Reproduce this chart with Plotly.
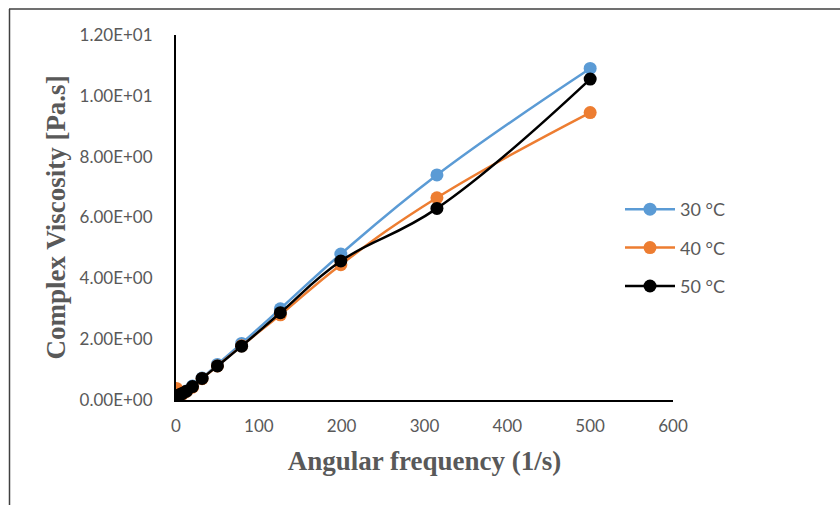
import plotly.graph_objects as go

freq = [0.5, 0.79, 1.26, 2.0, 3.15, 5.0, 7.92, 12.6, 19.9, 31.5, 50, 79.2, 126, 199, 315, 500]
v30 = [0.10, 0.10, 0.11, 0.12, 0.14, 0.17, 0.22, 0.30, 0.46, 0.72, 1.17, 1.86, 3.00, 4.80, 7.40, 10.9]
v40 = [0.38, 0.30, 0.22, 0.16, 0.15, 0.16, 0.20, 0.28, 0.42, 0.70, 1.12, 1.78, 2.80, 4.45, 6.65, 9.45]
v50 = [0.12, 0.12, 0.12, 0.13, 0.15, 0.18, 0.22, 0.29, 0.44, 0.71, 1.12, 1.77, 2.87, 4.57, 6.30, 10.55]

series_names = ["30 °C", "40 °C", "50 °C"]
series_colors = ["#5B9BD5", "#ED7D31", "#000000"]

y_ticks = [0, 2, 4, 6, 8, 10, 12]
y_tick_labels = ["0.00E+00", "2.00E+00", "4.00E+00", "6.00E+00", "8.00E+00", "1.00E+01", "1.20E+01"]
x_ticks = [0, 100, 200, 300, 400, 500, 600]

fig = go.Figure()
for name, vals, col in zip(series_names, [v30, v40, v50], series_colors):
    fig.add_trace(go.Scatter(
        x=freq, y=vals, name=name, mode="lines+markers",
        line=dict(color=col, width=2.5, shape="spline", smoothing=1.2),
        marker=dict(color=col, size=13),
        legendgroup=name,
    ))

L, T = 176, 35
W, H = 840, 505
pw, ph = 673 - 176, 400 - 35

def px_x(p):
    return (p - L) / pw

def px_y(p):
    return (400 - p) / ph

title_font = dict(family="Liberation Serif, Times New Roman, serif",
                  size=27, color="#595959", weight="bold")

fig.update_layout(
    width=W, height=H,
    margin=dict(l=L, r=W - 673, t=T, b=H - 400),
    paper_bgcolor="white", plot_bgcolor="white",
    font=dict(family="Lato, Open Sans, sans-serif", color="#595959", size=17),
    showlegend=True,
    legend=dict(x=px_x(620), y=px_y(248), xanchor="left", yanchor="middle",
                font=dict(size=18, color="#595959"), tracegroupgap=12,
                itemwidth=50,
                bgcolor="rgba(0,0,0,0)"),
    xaxis=dict(range=[0, 600], tickvals=x_ticks, showgrid=False, zeroline=False,
               showline=True, linecolor="black", linewidth=2, ticks="",
               ticklabelstandoff=10,
               title=dict(text="Angular frequency (1/s)", standoff=16, font=title_font)),
    yaxis=dict(range=[0, 12], tickvals=y_ticks, ticktext=y_tick_labels, showgrid=False,
               zeroline=False, showline=True, linecolor="black", linewidth=2, ticks="",
               ticklabelstandoff=18,
               title=dict(text="Complex Viscosity [Pa.s]", standoff=6, font=title_font)),
    shapes=[
        dict(type="line", xref="paper", yref="paper", x0=px_x(9), x1=px_x(845),
             y0=px_y(9), y1=px_y(9), line=dict(color="#404040", width=1.5)),
        dict(type="line", xref="paper", yref="paper", x0=px_x(9.5), x1=px_x(9.5),
             y0=px_y(9), y1=px_y(510), line=dict(color="#404040", width=1.5)),
    ],
)

fig.write_html("out.html")
